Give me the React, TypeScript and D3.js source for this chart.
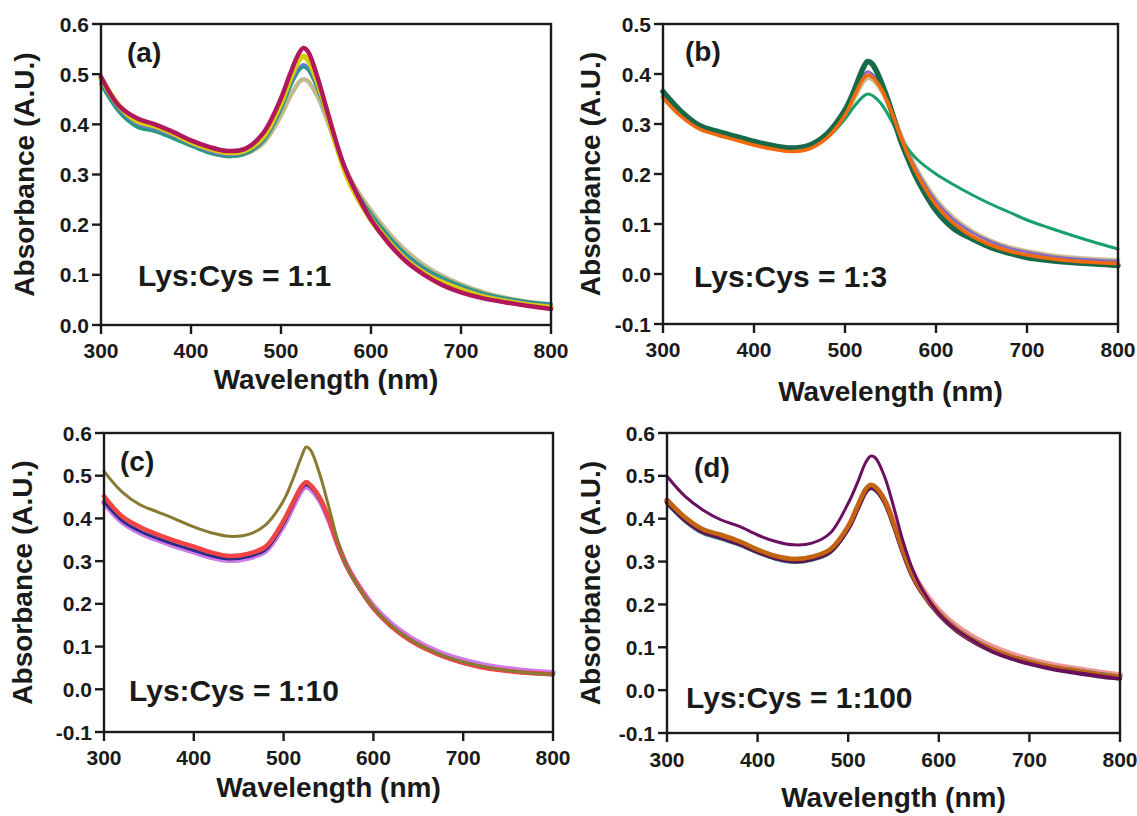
import * as d3 from 'd3';

// shared x grid (nm) for every spectrum
const wavelengths = [300, 320, 340, 360, 380, 400, 420, 440, 460, 480, 500, 510, 520, 525, 530, 540, 550, 560, 570, 580, 600, 620, 640, 660, 680, 700, 725, 750, 775, 800];
const xTickValues = [300, 400, 500, 600, 700, 800];
const yTicksA = [0, 0.1, 0.2, 0.3, 0.4, 0.5, 0.6];
const yTicksB = [-0.1, 0, 0.1, 0.2, 0.3, 0.4, 0.5];
const yTicksCD = [-0.1, 0, 0.1, 0.2, 0.3, 0.4, 0.5, 0.6];
const panelTags = ['(a)', '(b)', '(c)', '(d)'];
const ratioLabels = ['Lys:Cys = 1:1', 'Lys:Cys = 1:3', 'Lys:Cys = 1:10', 'Lys:Cys = 1:100'];

// (a) Lys:Cys = 1:1
const aKhaki = [0.487, 0.432, 0.402, 0.392, 0.377, 0.36, 0.346, 0.337, 0.341, 0.362, 0.418, 0.455, 0.484, 0.49, 0.486, 0.458, 0.415, 0.364, 0.318, 0.282, 0.228, 0.183, 0.146, 0.118, 0.097, 0.081, 0.065, 0.054, 0.046, 0.04];
const aTeal = [0.48, 0.425, 0.395, 0.386, 0.372, 0.357, 0.343, 0.336, 0.341, 0.366, 0.43, 0.474, 0.508, 0.515, 0.509, 0.474, 0.424, 0.367, 0.316, 0.277, 0.221, 0.176, 0.139, 0.112, 0.093, 0.078, 0.063, 0.053, 0.046, 0.042];
const aBlue = [0.485, 0.43, 0.4, 0.39, 0.376, 0.36, 0.346, 0.338, 0.343, 0.368, 0.433, 0.478, 0.513, 0.52, 0.514, 0.477, 0.425, 0.366, 0.314, 0.274, 0.217, 0.171, 0.135, 0.108, 0.089, 0.075, 0.061, 0.051, 0.044, 0.04];
const aMagenta = [0.49, 0.434, 0.404, 0.394, 0.379, 0.362, 0.349, 0.341, 0.346, 0.372, 0.44, 0.487, 0.53, 0.538, 0.531, 0.49, 0.434, 0.37, 0.314, 0.271, 0.212, 0.166, 0.13, 0.104, 0.086, 0.072, 0.058, 0.049, 0.042, 0.037];
const aYellow = [0.492, 0.437, 0.407, 0.397, 0.382, 0.365, 0.352, 0.344, 0.348, 0.375, 0.443, 0.49, 0.528, 0.535, 0.528, 0.488, 0.432, 0.368, 0.312, 0.27, 0.21, 0.165, 0.128, 0.102, 0.084, 0.07, 0.056, 0.047, 0.04, 0.035];
const aCrimson = [0.495, 0.437, 0.412, 0.4, 0.385, 0.368, 0.355, 0.347, 0.351, 0.382, 0.452, 0.5, 0.542, 0.552, 0.545, 0.497, 0.435, 0.373, 0.318, 0.277, 0.21, 0.162, 0.125, 0.099, 0.079, 0.065, 0.053, 0.045, 0.038, 0.032];

// (b) Lys:Cys = 1:3
const bKhaki = [0.355, 0.318, 0.292, 0.28, 0.27, 0.26, 0.252, 0.247, 0.252, 0.274, 0.318, 0.352, 0.385, 0.393, 0.39, 0.368, 0.33, 0.283, 0.24, 0.204, 0.148, 0.11, 0.084, 0.066, 0.053, 0.045, 0.037, 0.032, 0.029, 0.027];
const bPurple = [0.356, 0.318, 0.293, 0.281, 0.271, 0.261, 0.253, 0.248, 0.253, 0.276, 0.323, 0.36, 0.397, 0.405, 0.4, 0.374, 0.333, 0.284, 0.24, 0.203, 0.146, 0.108, 0.083, 0.065, 0.052, 0.044, 0.036, 0.031, 0.028, 0.026];
const bLightGreen = [0.36, 0.32, 0.295, 0.283, 0.272, 0.262, 0.254, 0.249, 0.253, 0.272, 0.31, 0.335, 0.355, 0.36, 0.357, 0.34, 0.31, 0.275, 0.248, 0.228, 0.2, 0.178, 0.158, 0.14, 0.124, 0.108, 0.092, 0.077, 0.063, 0.05];
const bDarkGreen = [0.365, 0.325, 0.297, 0.285, 0.275, 0.265, 0.257, 0.252, 0.257, 0.28, 0.328, 0.367, 0.412, 0.425, 0.42, 0.383, 0.333, 0.273, 0.227, 0.187, 0.127, 0.09, 0.07, 0.053, 0.042, 0.033, 0.027, 0.023, 0.02, 0.017];
const bOrange = [0.352, 0.315, 0.29, 0.278, 0.268, 0.258, 0.25, 0.245, 0.25, 0.272, 0.318, 0.355, 0.39, 0.398, 0.394, 0.37, 0.33, 0.28, 0.235, 0.197, 0.138, 0.1, 0.075, 0.058, 0.046, 0.038, 0.031, 0.026, 0.023, 0.021];

// (c) Lys:Cys = 1:10
const cGray = [0.435, 0.39, 0.364, 0.347, 0.332, 0.319, 0.306, 0.3, 0.305, 0.322, 0.382, 0.423, 0.463, 0.472, 0.466, 0.44, 0.394, 0.336, 0.286, 0.249, 0.189, 0.148, 0.117, 0.094, 0.076, 0.063, 0.051, 0.044, 0.039, 0.036];
const cViolet = [0.437, 0.392, 0.367, 0.35, 0.335, 0.322, 0.309, 0.302, 0.307, 0.324, 0.384, 0.426, 0.466, 0.475, 0.47, 0.443, 0.398, 0.34, 0.291, 0.254, 0.195, 0.153, 0.122, 0.099, 0.081, 0.068, 0.056, 0.048, 0.042, 0.039];
const cNavy = [0.44, 0.395, 0.37, 0.353, 0.338, 0.325, 0.312, 0.305, 0.31, 0.327, 0.388, 0.43, 0.47, 0.479, 0.473, 0.445, 0.398, 0.338, 0.287, 0.249, 0.188, 0.146, 0.115, 0.092, 0.074, 0.061, 0.049, 0.042, 0.037, 0.034];
const cRed = [0.452, 0.405, 0.38, 0.362, 0.347, 0.334, 0.32, 0.312, 0.317, 0.334, 0.395, 0.436, 0.475, 0.485, 0.478, 0.45, 0.403, 0.342, 0.29, 0.252, 0.19, 0.147, 0.116, 0.093, 0.075, 0.062, 0.05, 0.043, 0.038, 0.035];
const cOlive = [0.51, 0.462, 0.432, 0.415, 0.398, 0.38, 0.366, 0.358, 0.362, 0.385, 0.442, 0.49, 0.545, 0.567, 0.56, 0.505, 0.43, 0.35, 0.29, 0.25, 0.192, 0.149, 0.118, 0.095, 0.077, 0.064, 0.052, 0.044, 0.038, 0.035];

// (d) Lys:Cys = 1:100
const dSalmon = [0.442, 0.401, 0.373, 0.36, 0.345, 0.326, 0.311, 0.304, 0.309, 0.326, 0.38, 0.425, 0.468, 0.476, 0.472, 0.443, 0.391, 0.331, 0.279, 0.241, 0.186, 0.148, 0.121, 0.1, 0.084, 0.071, 0.059, 0.05, 0.042, 0.035];
const dTeal = [0.435, 0.393, 0.365, 0.352, 0.338, 0.32, 0.305, 0.298, 0.303, 0.32, 0.375, 0.42, 0.462, 0.47, 0.466, 0.437, 0.385, 0.325, 0.273, 0.236, 0.182, 0.144, 0.117, 0.096, 0.08, 0.068, 0.056, 0.048, 0.04, 0.033];
const dDarkPurple = [0.438, 0.397, 0.369, 0.356, 0.341, 0.323, 0.308, 0.301, 0.306, 0.323, 0.377, 0.422, 0.465, 0.473, 0.468, 0.44, 0.386, 0.324, 0.27, 0.232, 0.177, 0.138, 0.111, 0.09, 0.074, 0.062, 0.05, 0.041, 0.033, 0.027];
const dOrange = [0.444, 0.403, 0.375, 0.362, 0.347, 0.328, 0.313, 0.306, 0.311, 0.328, 0.382, 0.428, 0.471, 0.479, 0.474, 0.444, 0.39, 0.328, 0.274, 0.235, 0.18, 0.141, 0.114, 0.094, 0.078, 0.066, 0.054, 0.046, 0.037, 0.031];
const dPurple = [0.499, 0.452, 0.42, 0.397, 0.382, 0.362, 0.347, 0.339, 0.343, 0.366, 0.436, 0.483, 0.534, 0.546, 0.542, 0.499, 0.429, 0.351, 0.288, 0.242, 0.179, 0.14, 0.113, 0.09, 0.074, 0.062, 0.05, 0.042, 0.034, 0.027];

const FONT = '"Liberation Sans", Arial, sans-serif';
const INK = '#1a1a1a';

type Trace = { values: number[]; color: string; width: number };
type PanelSpec = {
  tag: string;
  ratio: string;
  left: number;
  right: number;
  top: number;
  bottom: number;
  yDomain: [number, number];
  yTicks: number[];
  tickBaseline: number;
  titleBaseline: number;
  yTitleX: number;
  tagPos: [number, number];
  ratioPos: [number, number];
  traces: Trace[];
};

function Panel({ spec }: { spec: PanelSpec }) {
  const x = d3.scaleLinear().domain([300, 800]).range([spec.left, spec.right]);
  const y = d3.scaleLinear().domain(spec.yDomain).range([spec.bottom, spec.top]);
  const line = d3
    .line<number>()
    .x((_, i) => x(wavelengths[i]))
    .y((v) => y(v))
    .curve(d3.curveCatmullRom.alpha(0.5));
  const midY = (spec.top + spec.bottom) / 2;

  return (
    <g fontFamily={FONT} fontWeight="bold" fill={INK}>
      {spec.traces.map((t, i) => (
        <path
          key={i}
          d={line(t.values) ?? ''}
          fill="none"
          stroke={t.color}
          strokeWidth={t.width}
          strokeLinejoin="round"
          strokeLinecap="round"
        />
      ))}

      <rect
        x={spec.left}
        y={spec.top}
        width={spec.right - spec.left}
        height={spec.bottom - spec.top}
        fill="none"
        stroke={INK}
        strokeWidth={2.4}
      />

      {xTickValues.map((t) => (
        <g key={`x-${t}`}>
          <line x1={x(t)} x2={x(t)} y1={spec.bottom} y2={spec.bottom + 9} stroke={INK} strokeWidth={2.4} />
          <text x={x(t)} y={spec.tickBaseline} textAnchor="middle" fontSize={21}>
            {t}
          </text>
        </g>
      ))}
      {spec.yTicks.map((t) => (
        <g key={`y-${t}`}>
          <line x1={spec.left - 9} x2={spec.left} y1={y(t)} y2={y(t)} stroke={INK} strokeWidth={2.4} />
          <text x={spec.left - 12} y={y(t)} dy="0.36em" textAnchor="end" fontSize={21}>
            {t.toFixed(1)}
          </text>
        </g>
      ))}

      <text x={(spec.left + spec.right) / 2} y={spec.titleBaseline} textAnchor="middle" fontSize={28}>
        Wavelength (nm)
      </text>
      <text transform={`translate(${spec.yTitleX},${midY}) rotate(-90)`} textAnchor="middle" fontSize={28}>
        Absorbance (A.U.)
      </text>

      <text x={spec.tagPos[0]} y={spec.tagPos[1]} fontSize={28}>
        {spec.tag}
      </text>
      <text x={spec.ratioPos[0]} y={spec.ratioPos[1]} fontSize={30}>
        {spec.ratio}
      </text>
    </g>
  );
}

export default function App() {
  const panels: PanelSpec[] = [
    {
      tag: panelTags[0],
      ratio: ratioLabels[0],
      left: 101,
      right: 551,
      top: 24,
      bottom: 325,
      yDomain: [0, 0.6],
      yTicks: yTicksA,
      tickBaseline: 358,
      titleBaseline: 389,
      yTitleX: 34,
      tagPos: [127, 62],
      ratioPos: [138, 286],
      traces: [
        { values: aKhaki, color: '#c3b98f', width: 4.5 },
        { values: aTeal, color: '#23997f', width: 3.5 },
        { values: aBlue, color: '#5d7fcc', width: 2.5 },
        { values: aMagenta, color: '#e04aa6', width: 2.5 },
        { values: aYellow, color: '#d6cf00', width: 5.5 },
        { values: aCrimson, color: '#b0175c', width: 4.5 },
      ],
    },
    {
      tag: panelTags[1],
      ratio: ratioLabels[1],
      left: 663,
      right: 1118,
      top: 24,
      bottom: 324,
      yDomain: [-0.1, 0.5],
      yTicks: yTicksB,
      tickBaseline: 357,
      titleBaseline: 401,
      yTitleX: 600,
      tagPos: [685, 61],
      ratioPos: [694, 287],
      traces: [
        { values: bKhaki, color: '#cbbb8d', width: 5 },
        { values: bPurple, color: '#8468c8', width: 2.5 },
        { values: bLightGreen, color: '#18a06a', width: 3 },
        { values: bDarkGreen, color: '#176a48', width: 5.5 },
        { values: bOrange, color: '#f26a0c', width: 3.5 },
      ],
    },
    {
      tag: panelTags[2],
      ratio: ratioLabels[2],
      left: 104,
      right: 553,
      top: 433,
      bottom: 732,
      yDomain: [-0.1, 0.6],
      yTicks: yTicksCD,
      tickBaseline: 765,
      titleBaseline: 797,
      yTitleX: 32,
      tagPos: [120, 471],
      ratioPos: [129, 701],
      traces: [
        { values: cGray, color: '#9fb4b4', width: 3 },
        { values: cViolet, color: '#cf7ae6', width: 5.5 },
        { values: cNavy, color: '#2b2b8c', width: 3 },
        { values: cRed, color: '#f24444', width: 4.5 },
        { values: cOlive, color: '#887a30', width: 3 },
      ],
    },
    {
      tag: panelTags[3],
      ratio: ratioLabels[3],
      left: 667,
      right: 1120,
      top: 433,
      bottom: 733,
      yDomain: [-0.1, 0.6],
      yTicks: yTicksCD,
      tickBaseline: 767,
      titleBaseline: 807,
      yTitleX: 600,
      tagPos: [694, 477],
      ratioPos: [686, 708],
      traces: [
        { values: dSalmon, color: '#f29494', width: 6 },
        { values: dTeal, color: '#3d8a88', width: 3 },
        { values: dDarkPurple, color: '#5a1455', width: 4.5 },
        { values: dOrange, color: '#c2650f', width: 4.5 },
        { values: dPurple, color: '#6b1060', width: 3 },
      ],
    },
  ];

  return (
    <svg
      width={1137}
      height={816}
      viewBox="0 0 1137 816"
      style={{ position: 'absolute', left: 0, top: 0, background: '#fff' }}
    >
      <rect width={1137} height={816} fill="#fff" />
      {panels.map((p) => (
        <Panel key={p.tag} spec={p} />
      ))}
    </svg>
  );
}
